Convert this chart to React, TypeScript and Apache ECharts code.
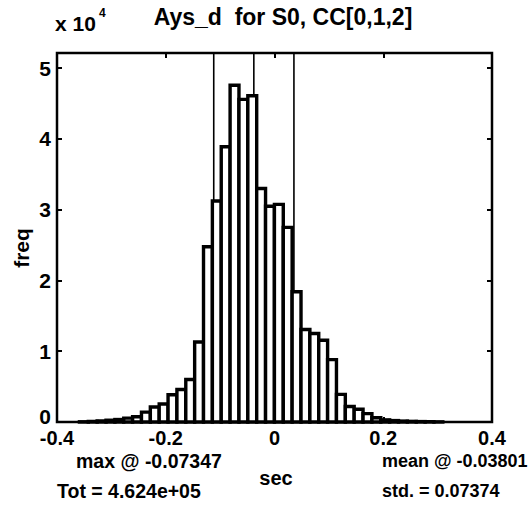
import React, { useEffect, useRef } from "react";
import * as echarts from "echarts";

// histogram bin centres (sec) and counts (freq)
const binCenters = [
  -0.3506, -0.3343, -0.318, -0.3017, -0.2854, -0.2691, -0.2528, -0.2365, -0.2202, -0.2039,
  -0.1876, -0.1713, -0.155, -0.1387, -0.1224, -0.1061, -0.0898, -0.0735, -0.0572, -0.0409,
  -0.0246, -0.0083, 0.008, 0.0243, 0.0406, 0.0569, 0.0732, 0.0895, 0.1058, 0.1221,
  0.1384, 0.1547, 0.171, 0.1873, 0.2036, 0.2199, 0.2362, 0.2525, 0.2688, 0.2851, 0.3014,
];
const counts = [
  30, 80, 150, 250, 350, 550, 750, 1400, 2120, 2550,
  3850, 4600, 6000, 11300, 24760, 31230, 38900, 47600, 45600, 46100,
  33000, 30500, 30750, 27500, 18400, 13070, 12500, 11560, 8820, 3900,
  2200, 1800, 1190, 600, 300, 200, 130, 90, 60, 40, 20,
];
const binWidth = 0.0163;
// mean - std, mean, mean + std
const statLines = [-0.11175, -0.03801, 0.03573];
const xRange = [-0.4, 0.4];
const xTickStep = 0.2;
const yMax = 52150;
const yTickStep = 10000;

const FONT = "'Liberation Sans', Arial, Helvetica, sans-serif";

export default function App() {
  const ref = useRef<HTMLDivElement>(null);
  useEffect(() => {
    if (!ref.current) return;
    const chart = echarts.init(ref.current, null, { renderer: "svg" });
    const txt = (text: string, x: number, y: number, size: number, align = "left", extra: any = {}) => ({
      type: "text",
      x,
      y,
      ...extra,
      style: {
        text,
        fill: "#000",
        font: `bold ${size}px ${FONT}`,
        textAlign: align,
        textVerticalAlign: "middle",
      },
    });
    const lineSeries = statLines.map((x) => ({
      type: "line",
      data: [
        [x, 0],
        [x, yMax],
      ],
      showSymbol: false,
      symbol: "none",
      z: 1,
      lineStyle: { color: "#000", width: 1.6 },
      silent: true,
    }));
    const tick = { inside: true, length: 5, lineStyle: { color: "#000", width: 2 } };
    chart.setOption({
      animation: false,
      backgroundColor: "#fff",
      grid: {
        left: 57,
        right: 39,
        top: 53,
        bottom: 85,
        show: true,
        borderColor: "#000",
        borderWidth: 2.5,
        backgroundColor: "transparent",
      },
      xAxis: [
        {
          type: "value",
          min: xRange[0],
          max: xRange[1],
          interval: xTickStep,
          position: "bottom",
          axisLine: { show: false, onZero: false },
          axisTick: tick,
          axisLabel: {
            color: "#000",
            fontFamily: FONT,
            fontWeight: "bold",
            fontSize: 20,
            margin: 6,
          },
          splitLine: { show: false },
        },
        {
          type: "value",
          min: xRange[0],
          max: xRange[1],
          interval: xTickStep,
          position: "top",
          axisLine: { show: false, onZero: false },
          axisTick: tick,
          axisLabel: { show: false },
          splitLine: { show: false },
        },
      ],
      yAxis: [
        {
          type: "value",
          min: 0,
          max: yMax,
          interval: yTickStep,
          position: "left",
          axisLine: { show: false, onZero: false },
          axisTick: tick,
          axisLabel: {
            color: "#000",
            fontFamily: FONT,
            fontWeight: "bold",
            fontSize: 21,
            margin: 6,
            formatter: (v: number) =>
              v === 0 ? "{z|0}" : v % yTickStep === 0 ? String(v / yTickStep) : "",
            rich: {
              z: {
                color: "#000",
                fontFamily: FONT,
                fontWeight: "bold",
                fontSize: 21,
                padding: [0, 0, 12, 0],
              },
            },
          },
          splitLine: { show: false },
        },
        {
          type: "value",
          min: 0,
          max: yMax,
          interval: yTickStep,
          position: "right",
          axisLine: { show: false, onZero: false },
          axisTick: tick,
          axisLabel: { show: false },
          splitLine: { show: false },
        },
      ],
      series: [
        ...lineSeries,
        {
          type: "custom",
          z: 2,
          data: binCenters.map((c, i) => [c, counts[i]]),
          renderItem: (_params: any, api: any) => {
            const c = api.value(0);
            const v = api.value(1);
            const p0 = api.coord([c - binWidth / 2, v]);
            const p1 = api.coord([c + binWidth / 2, 0]);
            return {
              type: "rect",
              shape: { x: p0[0], y: p0[1], width: p1[0] - p0[0], height: p1[1] - p0[1] },
              style: { fill: "#fff", stroke: "#000", lineWidth: 3.4 },
            };
          },
        },
      ],
      graphic: [
        txt("Ays_d  for S0, CC[0,1,2]", 283, 17, 23, "center"),
        txt("x 10", 55, 23, 21),
        txt("4", 99, 13, 12),
        txt("freq", 21, 248, 21, "center", { rotation: Math.PI / 2 }),
        txt("max @ -0.07347", 76, 461, 19.5),
        txt("Tot = 4.624e+05", 57, 491, 19.5),
        txt("sec", 276, 478, 20, "center"),
        txt("mean @ -0.03801", 382, 461, 18),
        txt("std. = 0.07374", 382, 491, 18),
      ],
    });
    return () => chart.dispose();
  }, []);
  return (
    <div
      ref={ref}
      style={{ position: "fixed", left: 0, top: 0, width: 531, height: 507, background: "#fff" }}
    />
  );
}
